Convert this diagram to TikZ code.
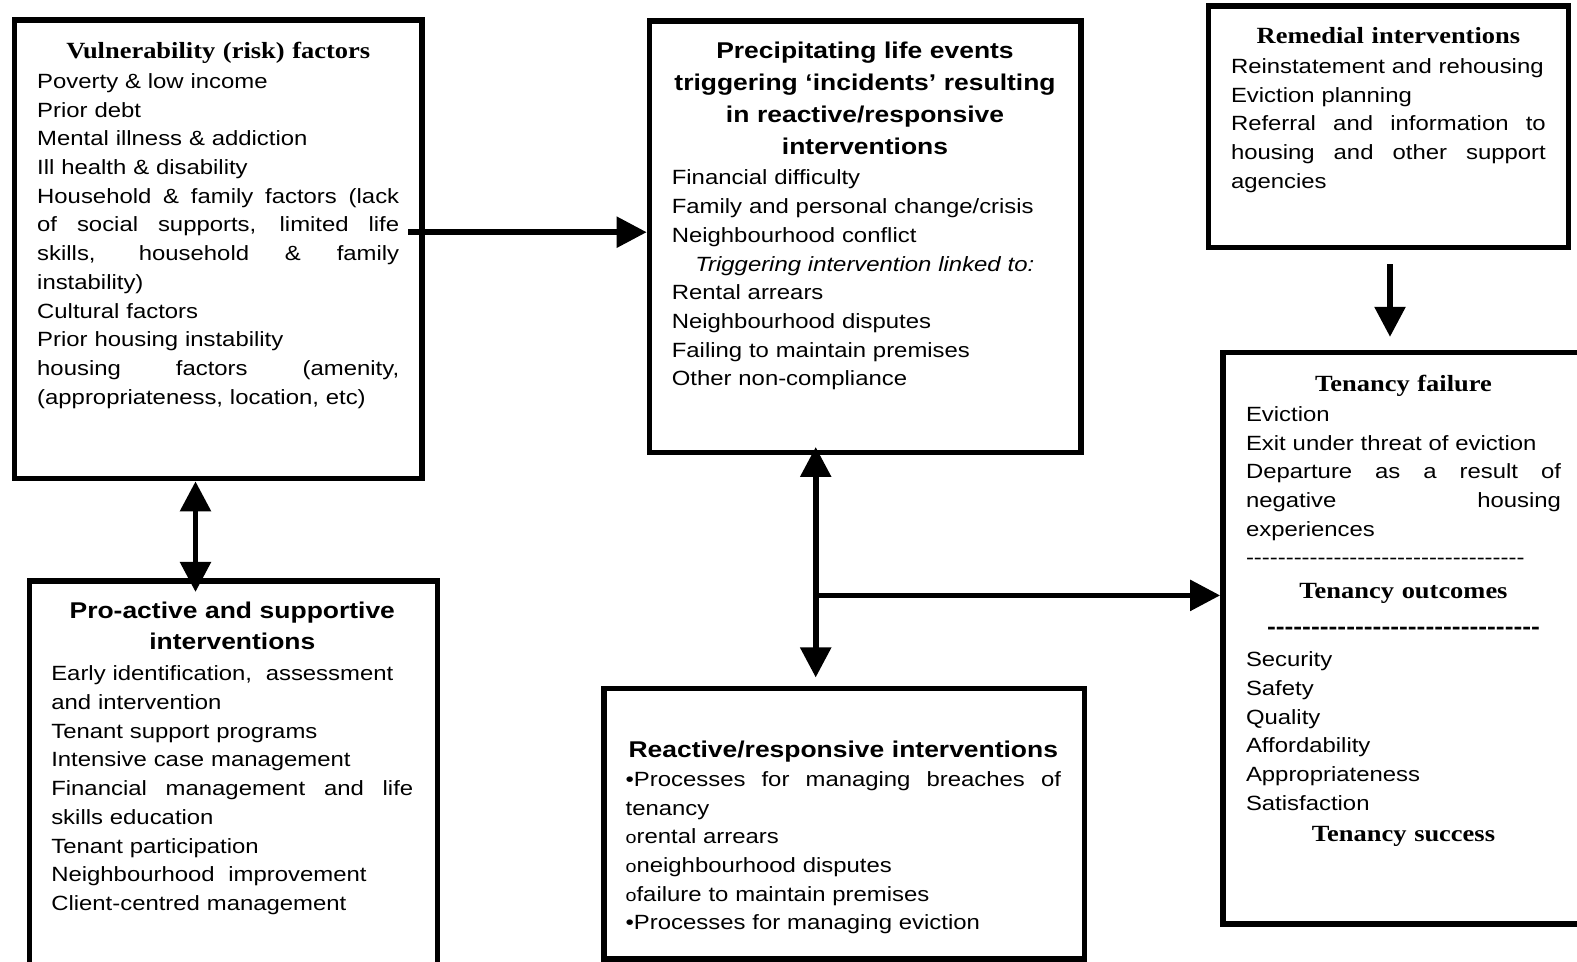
\documentclass[tikz,border=0pt]{standalone}
\usepackage{fontspec}
\newfontfamily\sansf[FakeStretch=1.16]{Liberation Sans}
\newfontfamily\seriff[FakeStretch=1.14]{Liberation Serif}
\usetikzlibrary{arrows.meta,fit,calc}
\newcommand\jl[2]{\makebox[#1][s]{\spaceskip=0.3em plus 20em\xspaceskip=0pt #2}}
\newcommand\dashrun[1]{\foreach \k in {1,...,#1}{\mbox{-}}}
\newcommand\smallo{{\fontsize{8.5}{8.5}\selectfont o}}
\begin{document}
\begin{tikzpicture}[x=0.5pt,y=-0.5pt,
  box/.style={draw, line width=2.85pt, inner sep=0pt},
  body/.style={inner sep=0pt, outer sep=0pt, anchor=base west, align=left, text width=240pt,
    font=\sansf\fontsize{10.3}{14.35}\selectfont},
  hsans/.style={inner sep=0pt, outer sep=0pt, anchor=base, align=center, text width=240pt,
    font=\sansf\bfseries\fontsize{11.4}{#1}\selectfont},
  hserif/.style={inner sep=0pt, outer sep=0pt, anchor=base, align=center, text width=240pt,
    font=\seriff\bfseries\fontsize{11.6}{16}\selectfont},
  tipa/.tip={Triangle[length=15pt,width=15pt]},
  conn/.style={line width=2.8pt, -tipa},
  dconn/.style={line width=2.8pt, tipa-tipa}]
\useasboundingbox (0,0) rectangle (1577,962);
\fill[white] (0,0) rectangle (1577,962);
\clip (0,0) rectangle (1577,962);

% boxes
\node[box, fit={(14.5,20.3) (422.3,478.5)}] (b1) {};
\node[box, fit={(29.5,581) (437.5,1010)}] (b2) {};
\node[box, fit={(649.5,21) (1081,452.5)}] (b3) {};
\node[box, fit={(1208.5,6) (1568.5,247.5)}] (b4) {};
\node[box, fit={(1223,352.5) (1600,924)}] (b5) {};
\node[box, fit={(604,688.5) (1084.5,959)}] (b6) {};

% box 1
\node[hserif] (b1h) at (218.3,58.3) {Vulnerability (risk) factors};
\node[body] (b1t) at (37.2,88.5) {Poverty \& low income\\
Prior debt\\
Mental illness \& addiction\\
Ill health \& disability\\
\jl{181pt}{Household \& family factors (lack}\\
\jl{181pt}{of social supports, limited life}\\
\jl{181pt}{skills, household \& family}\\
instability)\\
Cultural factors\\
Prior housing instability\\
\jl{181pt}{housing factors (amenity,}\\
(appropriateness, location, etc)};

% box 2
\node[hsans=15.6pt] (b2h) at (232.3,618.5) {Pro-active and supportive\\interventions};
\node[body] (b2t) at (51.3,680.8) {Early identification,\ \ assessment\\
and intervention\\
Tenant support programs\\
Intensive case management\\
\jl{181pt}{Financial management and life}\\
skills education\\
Tenant participation\\
Neighbourhood\ \ improvement\\
Client-centred management};

% box 3
\node[hsans=16.1pt] (b3h) at (865,58.3) {Precipitating life events\\triggering ‘incidents’ resulting\\in reactive/responsive\\interventions};
\node[body] (b3t) at (671.8,185) {Financial difficulty\\
Family and personal change/crisis\\
Neighbourhood conflict\\
\makebox[193pt][c]{\itshape Triggering intervention linked to:}\\
Rental arrears\\
Neighbourhood disputes\\
Failing to maintain premises\\
Other non-compliance};

% box 4
\node[hserif] (b4h) at (1388.4,43.2) {Remedial interventions};
\node[body] (b4t) at (1231,73.4) {Reinstatement and rehousing\\
Eviction planning\\
\jl{157.4pt}{Referral and information to}\\
\jl{157.4pt}{housing and other support}\\
agencies};

% box 5
\node[hserif] (b5h) at (1403.5,391.2) {Tenancy failure};
\node[body] (b5t) at (1246,421.3) {Eviction\\
Exit under threat of eviction\\
\jl{157.5pt}{Departure as a result of}\\
\jl{157.5pt}{negative housing}\\
experiences\\
\dashrun{35}};
\node[hserif] (b5o) at (1403.5,598.4) {Tenancy outcomes};
\node[hsans=16pt] (b5d) at (1403.5,634.6) {\dashrun{31}};
\node[body] (b5s) at (1246,666.7) {Security\\
Safety\\
Quality\\
Affordability\\
Appropriateness\\
Satisfaction};
\node[hserif] (b5x) at (1403.5,841.8) {Tenancy success};

% box 6
\node[hsans=16pt] (b6h) at (843.3,757.3) {Reactive/responsive interventions};
\node[body] (b6t) at (625.6,786.4) {\jl{217.7pt}{•Processes for managing breaches of}\\
tenancy\\
\smallo rental arrears\\
\smallo neighbourhood disputes\\
\smallo failure to maintain premises\\
•Processes for managing eviction};

% connectors
\coordinate (a1y) at (0,232.2);
\coordinate (a2x) at (195.5,530);
\coordinate (a3x) at (815.7,560);
\coordinate (a4s) at (815.7,595.4);
\coordinate (a5x) at (1390,300);

\draw[conn] ($(b1.east |- a1y)+(-17,0)$) -- (b3.west |- a1y);
\draw[dconn] (b1.south -| a2x) -- ($(b2.north -| a2x)+(0,13.8)$);
\draw[dconn] ($(b3.south -| a3x)+(0,-8.4)$) -- ($(b6.north -| a3x)+(0,-8.2)$);
\draw[conn] (a4s) -- (a4s -| b5.west);
\draw[conn] ($(b4.south -| a5x)+(0,13.8)$) -- ($(b5.north -| a5x)+(0,-12.8)$);
\end{tikzpicture}
\end{document}
